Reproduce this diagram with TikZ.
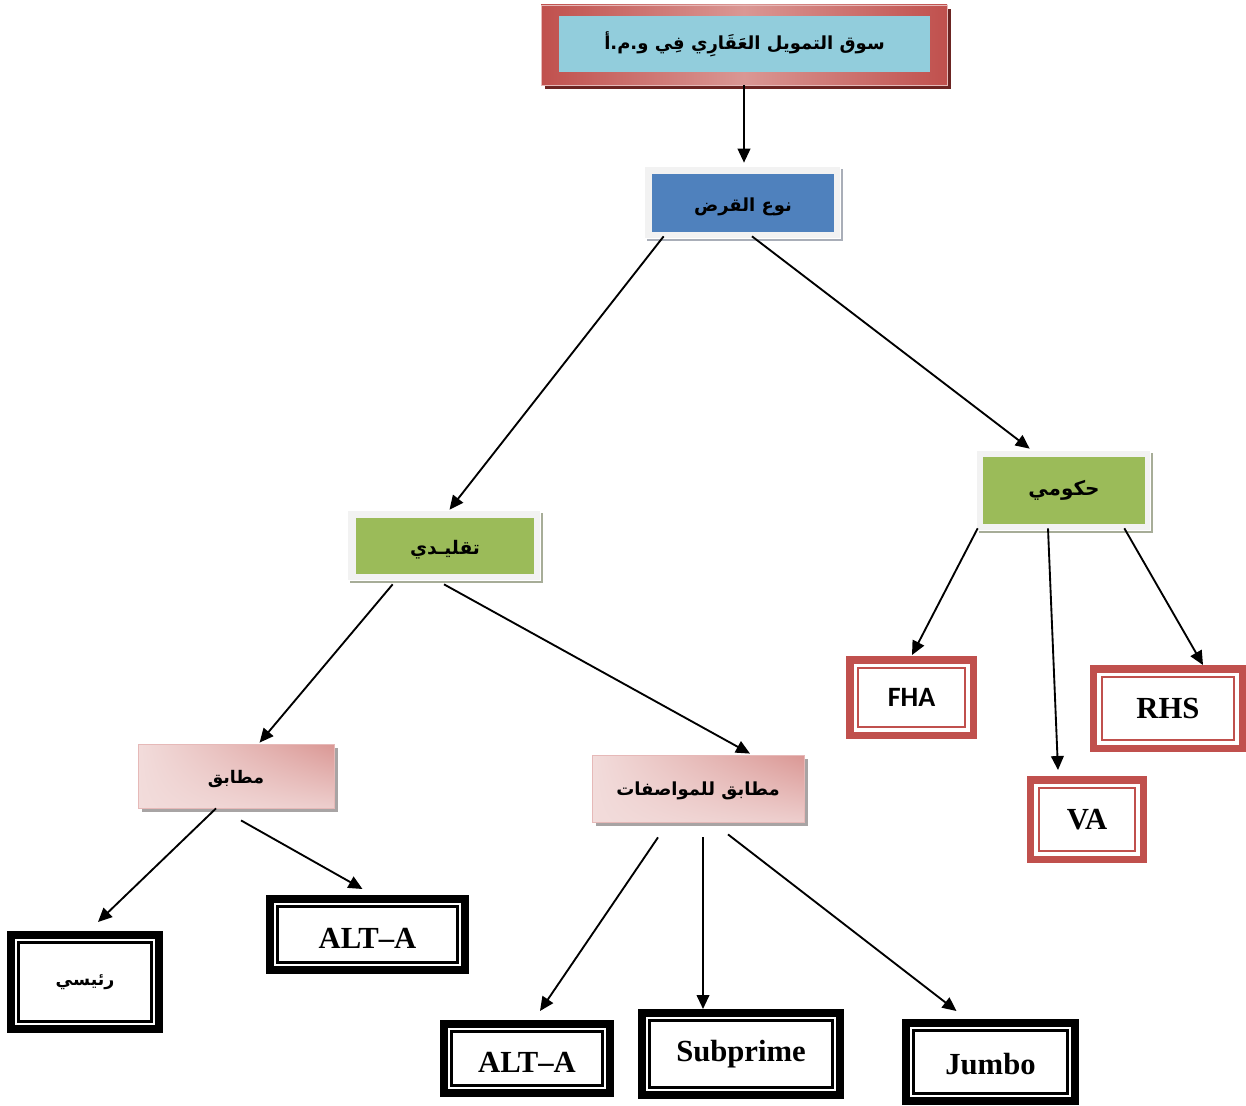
\documentclass[tikz,border=0pt]{standalone}
\usepackage{fontspec}
\usetikzlibrary{arrows.meta,shadows,shadings}
\TeXXeTstate=1
\newfontfamily\arabicfont[Script=Arabic]{DejaVu Sans}
\newfontfamily\latinserif{Liberation Serif}
\newfontfamily\latinsans{Carlito}
% Arabic label: optional size, then the text; \lowered moves a label down
% without changing the space it takes
\newcommand\artext[2][14pt]{{\fontsize{#1}{1.2\dimexpr#1\relax}\arabicfont\bfseries\beginR #2\endR}}
\newcommand\lowered[2]{\raisebox{-#1}[\height][\depth]{#2}}
% inner thin line of a double frame: node, colour, inset (px), width
\newcommand\inframe[4]{\draw[#2, line width=#4] ([shift={(#3,#3)}]#1.north west) rectangle ([shift={(-#3,-#3)}]#1.south east);}
\definecolor{redA}{HTML}{C0504D}
\definecolor{pinkA}{HTML}{DA9794}
\definecolor{pinkB}{HTML}{E6B9B8}
\definecolor{pinkC}{HTML}{F2DCDB}
\definecolor{maroon}{HTML}{6B2422}
\definecolor{cyanA}{HTML}{92CDDC}
\definecolor{blueA}{HTML}{4F81BD}
\definecolor{greenA}{HTML}{9BBB59}
\definecolor{frameG}{HTML}{F2F2F2}
\definecolor{shadeB}{HTML}{A9AEB8}
\definecolor{shadeG}{HTML}{A7AD98}
\definecolor{shadeP}{HTML}{A8A4A4}
\begin{document}
\begin{tikzpicture}[x=0.75pt,y=-0.75pt,
  arr/.style={-{Triangle[length=10.5pt,width=9.5pt]}, line width=1.4pt},
  topframe/.style={left color=redA, right color=redA, middle color=pinkA,
    draw=pinkB, line width=0.6pt,
    drop shadow={shadow xshift=3pt, shadow yshift=-3pt, fill=maroon, opacity=1}},
  grayframe/.style={fill=frameG, draw=white, line width=0.5pt,
    drop shadow={shadow xshift=2.5pt, shadow yshift=-2.5pt, fill=#1, opacity=1}},
  core/.style={fill=#1, inner sep=0pt},
  pinkbox/.style={upper left=pinkC, lower left=pinkC, lower right=pinkC!60!pinkB,
    upper right=pinkA, draw=pinkB, line width=0.6pt,
    drop shadow={shadow xshift=3pt, shadow yshift=-3pt, fill=shadeP, opacity=1}},
  blackbox/.style={draw=black, fill=white, line width=6pt},
  redbox/.style={draw=redA, fill=white, line width=5.6pt},
  serifbig/.style={font=\fontsize{23}{27}\latinserif\bfseries},
]
\useasboundingbox (0,0) rectangle (1246,1106);

% top level
\node[topframe, minimum width=304.5pt, minimum height=60pt] (topF) at (744,45) {};
\node[core=cyanA, minimum width=278.25pt, minimum height=42pt] (top) at (744.5,44)
  {\artext[13.5pt]{سوق التمويل العَقَارِي فِي و.م.أ}};

% loan type
\node[grayframe=shadeB, minimum width=147pt, minimum height=54pt] (noaF) at (742,202) {};
\node[core=blueA, minimum width=136.5pt, minimum height=43.5pt] (noa) at (743,203)
  {\lowered{3pt}{\artext[13.5pt]{نوع القرض}}};

% conventional
\node[grayframe=shadeG, minimum width=144.75pt, minimum height=52.5pt] (taqF) at (443.5,545) {};
\node[core=greenA, minimum width=133.5pt, minimum height=42pt] (taq) at (445,546)
  {\lowered{2.5pt}{\artext{تقليـدي}}};

% government
\node[grayframe=shadeG, minimum width=130.5pt, minimum height=60pt] (hokF) at (1063,490) {};
\node[core=greenA, minimum width=121.5pt, minimum height=50.25pt] (hok) at (1064,490.5)
  {\artext[15pt]{حكومي}};

% conforming / conforming to specifications
\node[pinkbox, minimum width=147pt, minimum height=48pt] (mut) at (236,776)
  {\lowered{2.5pt}{\artext[13pt]{مطابق}}};
\node[pinkbox, minimum width=159pt, minimum height=50.25pt] (mwa) at (698,788.5)
  {\lowered{1.5pt}{\artext[13.5pt]{مطابق للمواصفات}}};

% black double frames
\node[blackbox, minimum width=111pt, minimum height=70.5pt] (rai) at (85,982)
  {\artext[13pt]{رئيسي}};
\inframe{rai}{black}{11.5}{1.8pt}
\node[blackbox, serifbig, minimum width=146.25pt, minimum height=53.25pt] (alt1) at (367.5,934.5)
  {\lowered{3pt}{ALT–A}};
\inframe{alt1}{black}{11.5}{1.8pt}
\node[blackbox, serifbig, minimum width=124.5pt, minimum height=51.75pt] (alt2) at (527,1058.5)
  {\lowered{3pt}{ALT–A}};
\inframe{alt2}{black}{11.5}{1.8pt}
\node[blackbox, serifbig, minimum width=148.5pt, minimum height=61.5pt] (sub) at (741,1054)
  {Subprime};
\inframe{sub}{black}{11.5}{1.8pt}
\node[blackbox, serifbig, minimum width=126.75pt, minimum height=58.5pt] (jum) at (990.5,1062)
  {\lowered{1.5pt}{Jumbo}};
\inframe{jum}{black}{11.5}{1.8pt}

% red double frames
\node[redbox, font=\fontsize{21}{25}\latinsans\bfseries, minimum width=92.6pt, minimum height=56.6pt] (fha) at (911.5,697.5)
  {FHA};
\inframe{fha}{redA}{12}{1.5pt}
\node[redbox, serifbig, minimum width=111.4pt, minimum height=59.6pt] (rhs) at (1168,708.5)
  {RHS};
\inframe{rhs}{redA}{12}{1.5pt}
\node[redbox, serifbig, minimum width=84.4pt, minimum height=59.6pt] (va) at (1087,819.5)
  {VA};
\inframe{va}{redA}{12}{1.5pt}

% connectors
\draw[arr] (topF.south) -- ([shift={(2,-3)}]noaF.north);
\draw[arr] ([shift={(20,-2)}]noaF.south west) -- ([shift={(6,0)}]taqF.north);
\draw[arr] ([shift={(10,-2)}]noaF.south) -- ([shift={(54,-1)}]hokF.north west);
\draw[arr] ([shift={(46,4)}]taqF.south west) -- ([shift={(122,-1)}]mut.north west);
\draw[arr] ([shift={(0.5,4)}]taqF.south) -- ([shift={(52,-1)}]mwa.north);
\draw[arr] ([shift={(2,-2)}]hokF.south west) -- ([shift={(0.5,-1)}]fha.north);
\draw[arr] ([shift={(-15,-2)}]hokF.south) -- ([shift={(-29,-6)}]va.north);
\draw[arr] ([shift={(-26,-2)}]hokF.south east) -- ([shift={(35,0)}]rhs.north);
\draw[arr] ([shift={(-20,0)}]mut.south) -- ([shift={(13,-9)}]rai.north);
\draw[arr] ([shift={(5,12)}]mut.south) -- ([shift={(-5,-6)}]alt1.north);
\draw[arr] ([shift={(-40,15)}]mwa.south) -- ([shift={(13,-9)}]alt2.north);
\draw[arr] ([shift={(5,15)}]mwa.south) -- ([shift={(-38,0)}]sub.north);
\draw[arr] ([shift={(30,12)}]mwa.south) -- ([shift={(-34,-8)}]jum.north);
\end{tikzpicture}
\end{document}
